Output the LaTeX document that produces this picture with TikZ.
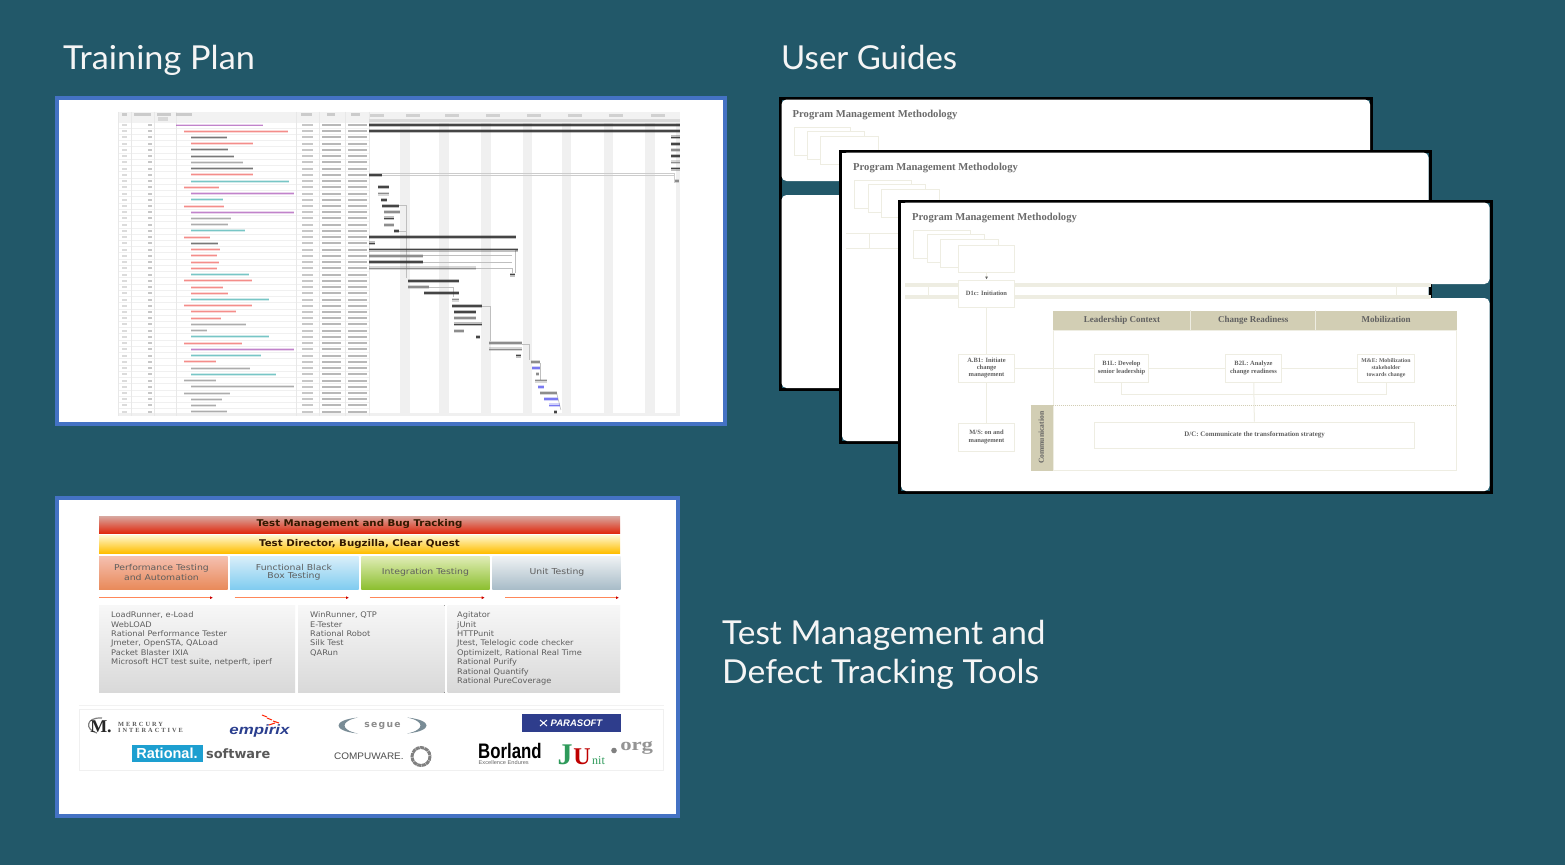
\documentclass[tikz,border=0pt]{standalone}
\usepackage{fontspec}
\usetikzlibrary{arrows.meta}
\setmainfont{Liberation Sans}
\newfontfamily\latofont{Lato}
\newfontfamily\djvfont{DejaVu Sans}
\newfontfamily\serfont{Liberation Serif}
\newfontfamily\spacedser[LetterSpace=32]{Liberation Serif}
\newfontfamily\spacedsans[LetterSpace=14]{DejaVu Sans}
\newcommand{\fsz}[1]{\fontsize{#1}{#1}\selectfont}
\definecolor{bgteal}{HTML}{225869}
\definecolor{frameblue}{HTML}{4472C4}
\definecolor{paleline}{HTML}{EEEDE2}
\definecolor{khaki}{HTML}{D2CEB4}
\definecolor{ttxt}{HTML}{5E5E5E}
\definecolor{gred}{HTML}{F0504C}
\definecolor{gpurple}{HTML}{A040B0}
\definecolor{gteal}{HTML}{30A8A8}
\definecolor{gdark}{HTML}{303030}
\definecolor{ggrey}{HTML}{808080}
\definecolor{gblue}{HTML}{6A6AF0}
\definecolor{barA}{HTML}{D8A8A0}\definecolor{barAm}{HTML}{E87860}\definecolor{barAb}{HTML}{E02A10}
\definecolor{barB}{HTML}{FFF8D0}\definecolor{barBm}{HTML}{FFE878}\definecolor{barBb}{HTML}{FFBE00}
\definecolor{colA}{HTML}{F4BFAF}\definecolor{colAb}{HTML}{E98A5A}
\definecolor{colB}{HTML}{D8EEF9}\definecolor{colBb}{HTML}{80CCF0}
\definecolor{colC}{HTML}{DFECB4}\definecolor{colCb}{HTML}{8CBF30}
\definecolor{colD}{HTML}{EEF1F3}\definecolor{colDb}{HTML}{A8BCC8}
\definecolor{paraNavy}{HTML}{2E3D8C}
\definecolor{ratBlue}{HTML}{1D9FD0}
\definecolor{empBlue}{HTML}{2B3F8F}
\definecolor{juGreen}{HTML}{2E9A5A}
\tikzset{
  x=1pt,y=-1pt,
  heading/.style={text=white!96!black,anchor=base west,inner sep=0pt,font=\latofont\fsz{33}},
  picframe/.style={draw=frameblue,line width=4pt,fill=white},
  wintitle/.style={anchor=west,inner sep=0pt,text=black!58,font=\serfont\bfseries\fsz{10.6}},
  paper/.style={draw=paleline,fill=white,line width=.8pt},
  flowbox/.style={draw=paleline,fill=white,line width=1pt,align=center,inner sep=0pt,text=black!62,font=\serfont\bfseries\fontsize{6.5}{7.2}\selectfont},
  flowline/.style={draw=paleline,line width=1pt},
  headcell/.style={fill=khaki,inner sep=0pt,text height=6pt,text depth=2pt,text=black!62,font=\serfont\bfseries\fsz{9}},
  bartext/.style={inner sep=0pt,xscale=1.1,text=black!80!orange,font=\djvfont\bfseries\fsz{9.3}},
  coltext/.style={inner sep=0pt,align=center,xscale=1.15,text=ttxt,font=\djvfont\fsz{8.1}},
  tool/.style={anchor=base west,inner sep=0pt,xscale=1.07,text=ttxt,font=\djvfont\fsz{7.7}},
  flowarrow/.style={draw=red!45!orange!65,line width=.6pt,-{Latex[length=3pt,width=3pt,red!80!black]}},
}
\newcommand{\winbase}[5]{% dx dy right-edge panel-right name
  \begin{scope}[shift={(#1pt,#2pt)}]
    \draw[black,line width=3pt] (899.5,201) rectangle (#3,492.5);
    \fill[white,rounded corners=5pt] (901,202.5) rectangle (#4,284);
    \fill[white,rounded corners=5pt] (901,298) rectangle (#4,491);
    \node[wintitle] (#5title) at (912,218) {Program Management Methodology};
    \draw[paper] (913.7,230) rectangle (970,258);
    \draw[paper] (927,234) rectangle (984,262);
    \draw[paper] (940,239) rectangle (998,267);
  \end{scope}}
\begin{document}
\begin{tikzpicture}
\useasboundingbox (0,0) rectangle (1565,865);
\fill[bgteal] (0,0) rectangle (1565,865);

% headings
\node[heading,xscale=1.038] (h1) at (63,69) {Training Plan};
\node[heading] (h2) at (781,69) {User Guides};
\node[heading,xscale=1.012] (h3) at (722,644) {Test Management and};
\node[heading,xscale=1.022] (h4) at (722,683) {Defect Tracking Tools};

% ---------- Gantt picture
\draw[picframe] (57,98) rectangle (725,424);
\begin{scope}[shift={(50pt,-90pt)},x=0.4337pt,y=-0.3333pt]
  \fill[black!5] (158,65) rectangle (1452,98);
  \fill[black!6] (158,970) rectangle (1452,977);
  \foreach \a in {807,897,994,1090,1180,1277,1372,1444}
    \fill[black!6] (\a,98) rectangle ({min(\a+22,1452)},970);
  \foreach \i in {0,...,46}
    \draw[black!6,line width=.4pt] (158,{114+\i*18.7}) -- (735,{114+\i*18.7});
  \foreach \a in {158,188,240,290,568,620,680,735}
    \draw[black!9,line width=.5pt] (\a,65) -- (\a,977);
  % header smudges
  \foreach \a/\b in {165/178,193/233,247/280,290/328,578/605,638/658,695/715}
    \fill[black!35,opacity=.5] (\a,68) rectangle (\b,78);
  \fill[black!30,opacity=.4] (250,82) rectangle (272,94);
  \foreach \a in {737,820,910,1005,1100,1195,1290,1385}
    \fill[black!30,opacity=.5] (\a,72) rectangle (\a+32,80);
  \fill[black!15] (735,86) rectangle (1452,96);
  % connectors of the chart
  \draw[black!20,line width=.7pt] (765,250) -- (1440,250) -- (1440,278);
  \draw[black!20,line width=.7pt] (735,257) -- (1440,257);
  \draw[black!25,line width=.6pt] (805,345) -- (822,345) -- (822,565);
  \draw[black!25,line width=.6pt] (805,425) -- (822,425);
  \draw[black!25,line width=.6pt] (860,497) -- (1065,497);
  \draw[black!25,line width=.6pt] (860,517) -- (1065,517);
  \draw[black!25,line width=.6pt] (982,535) -- (1065,535) -- (1065,550);
  \draw[black!25,line width=.6pt] (1078,480) -- (1072,480) -- (1072,550);
  \draw[black!25,line width=.6pt] (995,648) -- (1015,648) -- (1015,752);
  \draw[black!25,line width=.6pt] (873,592) -- (930,592) -- (930,620);
  \draw[black!25,line width=.6pt] (1088,762) -- (1105,762) -- (1105,810);
  \draw[black!25,line width=.6pt] (1130,818) -- (1130,870);
  \draw[black!25,line width=.6pt] (1168,908) -- (1178,960);
  % rows: index / text colour / text from / to / bar colour / from / to
  \foreach \i/\c/\a/\b/\k/\s/\e in {
    1/gpurple/290/490/gdark/735/1452,
    2/gred/310/548/gdark/735/1452,
    3/gdark/325/408/gdark/1432/1452,
    4/gred/325/468/gdark/1432/1452,
    5/gdark/325/410/ggrey/1432/1452,
    6/gdark/325/425/gdark/1432/1452,
    7/ggrey/325/445/ggrey/1432/1452,
    8/gdark/325/468/gdark/1432/1452,
    9/gred/325/468/gdark/735/765,
    10/gteal/325/550/ggrey/1440/1450,
    11/gred/310/390/gdark/757/782,
    12/gpurple/325/563/ggrey/757/782,
    13/gteal/325/398/gdark/763/777,
    14/gred/310/402/gdark/765/805,
    15/gpurple/325/563/ggrey/770/808,
    16/ggrey/325/418/gdark/770/793,
    17/ggrey/325/410/ggrey/770/793,
    18/gteal/325/450/gdark/793/805,
    19/gred/310/370/gdark/735/1075,
    20/gdark/325/388/gdark/735/750,
    21/gred/325/392/gdark/735/1078,
    22/gred/325/385/ggrey/735/860,
    23/gred/325/390/gdark/735/860,
    24/gred/325/385/ggrey/735/982,
    25/gteal/325/458/gdark/1060/1072,
    26/gred/310/465/gdark/825/942,
    27/gred/325/400/ggrey/825/873,
    28/gred/325/410/gdark/862/942,
    29/gteal/325/505/ggrey/928/942,
    30/gred/310/465/gdark/928/995,
    31/gred/325/428/gdark/932/982,
    32/gred/325/395/ggrey/932/982,
    33/ggrey/325/452/gdark/932/995,
    34/ggrey/325/362/ggrey/932/955,
    35/gteal/325/505/gdark/982/992,
    36/gred/310/443/ggrey/1012/1088,
    37/gpurple/325/563/ggrey/1012/1088,
    38/gteal/325/487/gdark/1075/1087,
    39/gred/310/383/ggrey/1108/1130,
    40/ggrey/325/460/gblue/1112/1130,
    41/gteal/325/520/ggrey/1120/1128,
    42/ggrey/310/382/ggrey/1118/1145,
    43/ggrey/325/563/gblue/1125/1140,
    44/ggrey/310/415/ggrey/1130/1168,
    45/ggrey/325/397/gblue/1140/1172,
    46/ggrey/325/382/gblue/1150/1175,
    47/ggrey/325/408/gdark/1163/1170}{
    \pgfmathsetmacro{\yy}{105+(\i-1)*18.7}
    % label smudges
    \fill[\c,opacity=.22] (\a,\yy-4.5) rectangle (\b,\yy+4.5);
    \fill[\c,opacity=.55] (\a,\yy-1.5) rectangle (\b,\yy+1.5);
    % table columns
    \fill[black,opacity=.14] (167,\yy-3) rectangle (177,\yy+3);
    \fill[black,opacity=.22] (226,\yy-3) rectangle (236,\yy+3);
    \fill[black,opacity=.22] (582,\yy-3) rectangle (606,\yy+3);
    \fill[black,opacity=.28] (628,\yy-3) rectangle (672,\yy+3);
    \fill[black,opacity=.28] (688,\yy-3) rectangle (732,\yy+3);
    % task bars
    \fill[\k,opacity=.3] (\s,\yy-6) rectangle (\e,\yy+6);
    \fill[\k,opacity=.85] (\s,\yy-2.5) rectangle (\e,\yy+2.5);
  }
\end{scope}

% ---------- Tools picture
\draw[picframe] (57,498) rectangle (678,816);
\fill[top color=barA,middle color=barAm,bottom color=barAb] (99,516) rectangle (620,533);
\node[bartext] (b1) at (359.5,524) {Test Management and Bug Tracking};
\fill[top color=barB,middle color=barBm,bottom color=barBb] (99,535) rectangle (620,553);
\node[bartext] (b2) at (359.5,543.5) {Test Director, Bugzilla, Clear Quest};
\fill[top color=colA,bottom color=colAb] (99,556.7) rectangle (227.5,589.3);
\fill[top color=colB,bottom color=colBb] (230,556.7) rectangle (358.6,589.3);
\fill[top color=colC,bottom color=colCb] (361.4,556.7) rectangle (489.6,589.3);
\fill[top color=colD,bottom color=colDb] (492.4,556.7) rectangle (620.6,589.3);
\node[coltext] (c1) at (161.5,572.5) {Performance Testing\\[1.5pt]and Automation};
\node[coltext] (c2) at (294,572) {Functional Black\\Box Testing};
\node[coltext] (c3) at (425.5,572.5) {Integration Testing};
\node[coltext] (c4) at (557,572.5) {Unit Testing};
\foreach \n/\a/\b in {a1/99/213,a2/234.5/349,a3/369.6/484.7,a4/505/619}{
  \coordinate (\n s) at (\a,597.7);
  \coordinate (\n e) at (\b,597.7);
  \draw[flowarrow] (\n s) -- (\n e);
}
\foreach \a/\b in {99/295,298/444.7,447.5/620}
  \fill[top color=white!97!black,bottom color=black!15] (\a,605) rectangle (\b,692.7);
\foreach \i/\t in {0/{LoadRunner, e-Load},1/WebLOAD,2/Rational Performance Tester,3/{Jmeter, OpenSTA, QALoad},4/Packet Blaster IXIA,5/{Microsoft HCT test suite, netperft, iperf}}
  \node[tool] (ta\i) at (111,{617.7+\i*9.4}) {\t};
\foreach \i/\t in {0/{WinRunner, QTP},1/E-Tester,2/Rational Robot,3/Silk Test,4/QARun}
  \node[tool] (tb\i) at (310,{617.7+\i*9.4}) {\t};
\foreach \i/\t in {0/Agitator,1/jUnit,2/HTTPunit,3/{Jtest, Telelogic code checker},4/{OptimizeIt, Rational Real Time},5/Rational Purify,6/Rational Quantify,7/Rational PureCoverage}
  \node[tool] (tc\i) at (457,{617.7+\i*9.4}) {\t};

% logo strip
\draw[black!5,line width=.6pt] (79.4,705) -- (663.5,705);
\draw[black!6,line width=.8pt] (79.4,709) rectangle (663.5,770);
\draw[black!50,line width=1.2pt] (97,733) .. controls (85,730) and (85,717) .. (102,718);
\node[inner sep=0pt,text=black!85,font=\serfont\bfseries\fsz{18}] (lm) at (101,727) {M.};
\node[inner sep=0pt,anchor=base west,text=black!65,font=\spacedser\bfseries\fsz{6.3}] (lmi) at (118,726.3) {MERCURY};
\node[inner sep=0pt,anchor=base west,text=black!65,font=\spacedser\bfseries\fsz{6.3}] (lmj) at (118,732.8) {INTERACTIVE};
\node[inner sep=0pt,xscale=1.25,text=empBlue,font=\bfseries\itshape\fsz{13.5}] (lem) at (259.5,731) {empirix};
\foreach \a/\b/\c/\d in {262/715/267/717,267/718/272/720,273/721/279/723,269/725/275/723}{
  \coordinate (ds\a) at (\a,\b);
  \coordinate (de\a) at (\c,\d);
  \draw[red!75!orange,line width=1pt] (ds\a) -- (de\a);
}
\fill[black!40!cyan!35!gray] (358,717.5) .. controls (332,720) and (332,731) .. (358,733.5) .. controls (340,730) and (340,721) .. (358,717.5);
\fill[black!40!cyan!35!gray] (407,717.5) .. controls (433,720) and (433,731) .. (407,733.5) .. controls (425,730) and (425,721) .. (407,717.5);
\node[inner sep=0pt,text=black!45,font=\spacedsans\bfseries\fsz{9.2}] (lse) at (382.5,725.5) {segue};
\node[fill=paraNavy,minimum width=99pt,minimum height=18pt,inner sep=0pt,text=white,font=\bfseries\itshape\fsz{9.5}] (lpa) at (571.5,723) {\hspace{10pt}PARASOFT};
\draw[white,line width=1pt] (540,720) -- (547,726) (547,720) -- (540,726);
\node[fill=ratBlue,minimum width=71pt,minimum height=17pt,inner sep=0pt,text=white,font=\bfseries\fsz{14.5}] (lra) at (167,753.5) {Rational.};
\node[inner sep=0pt,anchor=west,text=black!65,font=\djvfont\bfseries\fsz{12.9}] (lso) at (206,754) {software};
\node[inner sep=0pt,anchor=west,text=black!70,xscale=1.05,font=\fsz{9.5}] (lco) at (334,756) {COMPUWARE.};
\draw[black!50,line width=3pt,dash pattern=on 4pt off .6pt] (421,756.5) circle[radius=9];
\node[inner sep=0pt,anchor=west,xscale=.8,text=black,font=\bfseries\fsz{21}] (lbo) at (478,751) {Borland};
\node[inner sep=0pt,anchor=west,xscale=1.05,text=black!60,font=\fsz{5.4}] (lex) at (478.5,763) {Excellence Endures};
\node[inner sep=0pt,text=juGreen,font=\serfont\bfseries\fsz{30}] (lj) at (565,755) {J};
\node[inner sep=0pt,text=red!75!black,font=\serfont\bfseries\fsz{24}] (lu) at (582,757) {U};
\node[inner sep=0pt,anchor=west,text=juGreen,font=\serfont\fsz{12}] (ln) at (592,761) {nit};
\fill[black!50] (614,750.5) circle[radius=2.8];
\node[inner sep=0pt,anchor=west,xscale=1.3,text=black!42,font=\serfont\bfseries\fsz{17.5}] (lo) at (620,748) {org};

% ---------- User guides: three stacked windows
\winbase{-119.5}{103}{1491}{1489.5}{w1}
\winbase{-59}{50}{1489}{1487.5}{w2}
\draw[paleline,line width=1pt] (846,233) -- (900,233) (846,248) -- (900,248) (869,233) -- (869,248);
\winbase{0}{0}{1491}{1489.5}{w3}
\fill[paleline] (905,283) rectangle (1431,287);
\fill[paleline] (905,295) rectangle (1431,299);
\draw[paleline,line width=.8pt] (928,284) -- (928,298);
\draw[paleline,line width=.8pt] (1396,284) -- (1396,298);
\fill[khaki] (1053,310.7) rectangle (1456.7,330);
\draw[paleline,line width=1pt] (1053,330) rectangle (1456.7,470.7);
\draw[khaki,line width=1pt,densely dotted] (1030.7,405) -- (1456.7,405);
\node[flowbox,minimum width=56pt,minimum height=27pt] (pp4) at (986.5,259) {};
\node[flowbox,minimum width=56pt,minimum height=27pt] (d1c) at (986.5,293.5) {D1c: Initiation};
\node[flowbox,minimum width=56pt,minimum height=28pt] (ab1) at (986.5,368) {A.B1: Initiate\\change\\management};
\node[flowbox,minimum width=56pt,minimum height=28pt] (mgt) at (986.5,437) {M/S: on and\\management};
\node[headcell,minimum width=137pt,minimum height=19.3pt] (hc1) at (1122,320.3) {Leadership Context};
\node[headcell,minimum width=124pt,minimum height=19.3pt] (hc2) at (1253.3,320.3) {Change Readiness};
\node[headcell,minimum width=141pt,minimum height=19.3pt] (hc3) at (1386.2,320.3) {Mobilization};
\draw[paleline,line width=.7pt] (hc1.north east) -- (hc1.south east) (hc2.north east) -- (hc2.south east);
\node[headcell,rotate=90,minimum width=65.7pt,minimum height=22.3pt,font=\serfont\bfseries\fsz{7.6}] (comm) at (1041.8,437.8) {Communication};
\coordinate (join1) at (1121.5,394);
\coordinate (join3) at (1386,394);
\node[flowbox,minimum width=54pt,minimum height=28pt] (b1l) at (1121.5,368) {B1L: Develop\\senior leadership};
\node[flowbox,minimum width=56.7pt,minimum height=28pt] (b2l) at (1253.5,368) {B2L: Analyze\\change readiness};
\node[flowbox,minimum width=57.3pt,minimum height=28pt,font=\serfont\bfseries\fontsize{5.8}{7.2}\selectfont] (b3l) at (1386,368) {M\&E: Mobilization\\stakeholder\\towards change};
\node[flowbox,minimum width=320.3pt,minimum height=26pt,font=\serfont\bfseries\fsz{6.9}] (dc) at (1254.6,435) {D/C: Communicate the transformation strategy};
\draw[flowline,-{Latex[length=3pt,width=3pt,black!60]}] (pp4) -- (d1c);
\draw[flowline] (d1c) -- (ab1);
\draw[flowline] (ab1) -- (mgt.north);
\draw[flowline] (ab1) -- (b1l);
\draw[flowline] (b1l) -- (b2l);
\draw[flowline] (b2l) -- (b3l);
\draw[flowline] (b1l) -- (join1) -- (join3) -- (b3l);
\draw[flowline] (b2l) -- (dc);
\end{tikzpicture}
\end{document}
